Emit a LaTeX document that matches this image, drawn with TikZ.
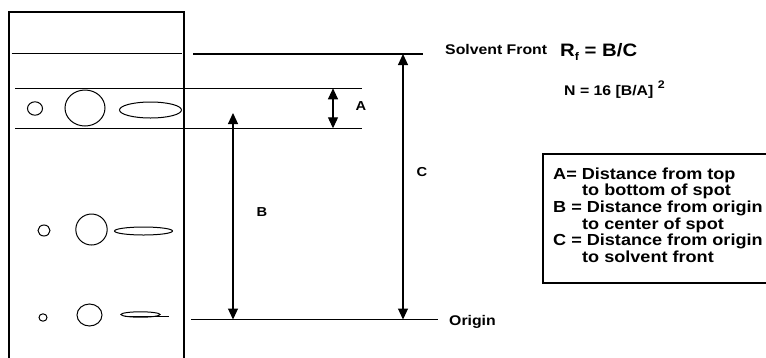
\documentclass[tikz,border=0pt]{standalone}
\usepackage{fontspec}
\setmainfont{Liberation Sans}[FakeStretch=1.13]
\usetikzlibrary{arrows.meta}
\tikzset{
  ln/.style={line width=1.1pt, black},
  dimarrow/.style={ln, {Triangle[length=11pt,width=10pt]}-{Triangle[length=11pt,width=10pt]}},
  lbl/.style={inner sep=0pt, font=\bfseries\fontsize{13}{15}\selectfont},
  txt/.style={inner sep=0pt, anchor=base west, font=\bfseries\fontsize{14}{16}\selectfont},
  boxtxt/.style={inner sep=0pt, anchor=base west, font=\bfseries\fontsize{16}{17}\selectfont},
  spot/.style={line width=1pt}
}
\begin{document}
\begin{tikzpicture}[x=1pt,y=-1pt]
\useasboundingbox (0,0) rectangle (766,357);
% plate
\draw[ln] (9,360) -- (9,12) -- (184,12) -- (184,360);
% lines
\coordinate (sfin1) at (11.5,53.5);
\coordinate (sfin2) at (181.5,53.5);
\coordinate (sf1) at (193,54);
\coordinate (sf2) at (423,54);
\coordinate (bt1) at (15,88.3);
\coordinate (bt2) at (362,88.3);
\coordinate (bb1) at (15,128.3);
\coordinate (bb2) at (362,128.3);
\coordinate (or1) at (191,319.5);
\coordinate (or2) at (438,319.5);
\draw[ln] (sfin1) -- (sfin2);
\draw[ln] (sf1) -- (sf2);
\draw[ln] (bt1) -- (bt2);
\draw[ln] (bb1) -- (bb2);
\draw[ln] (or1) -- (or2);
% arrows
\coordinate (at) at (333,88.3);
\coordinate (ab) at (333,128.3);
\coordinate (btop) at (233,113);
\coordinate (bbot) at (233,319.5);
\coordinate (ctop) at (403,54);
\coordinate (cbot) at (403,319.5);
\draw[dimarrow] (at) -- (ab);
\draw[dimarrow] (btop) -- (bbot);
\draw[dimarrow] (ctop) -- (cbot);
% labels
\node[lbl] (la) at (361,106) {A};
\node[lbl] (lb) at (262,212) {B};
\node[lbl] (lc) at (422,172) {C};
% spots row 1
\draw[spot] (35,108.5) ellipse [x radius=7.5pt, y radius=6.7pt];
\draw[spot] (85,108) ellipse [x radius=20pt, y radius=18pt];
\draw[spot] (150.5,110) ellipse [x radius=31pt, y radius=8pt];
% spots row 2
\draw[spot] (44,230.5) ellipse [x radius=6pt, y radius=5.5pt];
\draw[spot] (91.5,229.5) ellipse [x radius=15.7pt, y radius=15.5pt];
\draw[spot] (143.5,231) ellipse [x radius=29pt, y radius=4pt];
% spots row 3
\draw[spot] (43,317.5) ellipse [x radius=4pt, y radius=3.7pt];
\draw[spot] (89.5,315) ellipse [x radius=12.5pt, y radius=11pt];
\draw[spot] (140.5,314.5) ellipse [x radius=19.5pt, y radius=2.7pt];
\draw[line width=1.4pt] (125,316.7) -- (169,316.7);
% texts
\node[txt] (sft) at (445,54) {Solvent Front};
\node[inner sep=0pt, anchor=base west, font=\bfseries\fontsize{18}{20}\selectfont] (rf) at (560,56) {R\raisebox{-0.25em}{\fontsize{11}{12}\selectfont f} = B/C};
\node[txt] (nn) at (564,95) {N = 16 [B/A] \raisebox{0.5em}{\fontsize{11}{12}\selectfont 2}};
\node[txt] (ori) at (449,325) {Origin};
% legend box
\draw[ln] (766,154) -- (543,154) -- (543,283) -- (766,283);
\node[boxtxt] (l1) at (553,179) {A= Distance from top};
\node[boxtxt] (l2) at (582,195.7) {to bottom of spot};
\node[boxtxt] (l3) at (553,212.4) {B = Distance from origin};
\node[boxtxt] (l4) at (582,229) {to center of spot};
\node[boxtxt] (l5) at (553,245.8) {C = Distance from origin};
\node[boxtxt] (l6) at (582,262.5) {to solvent front};
\end{tikzpicture}
\end{document}
